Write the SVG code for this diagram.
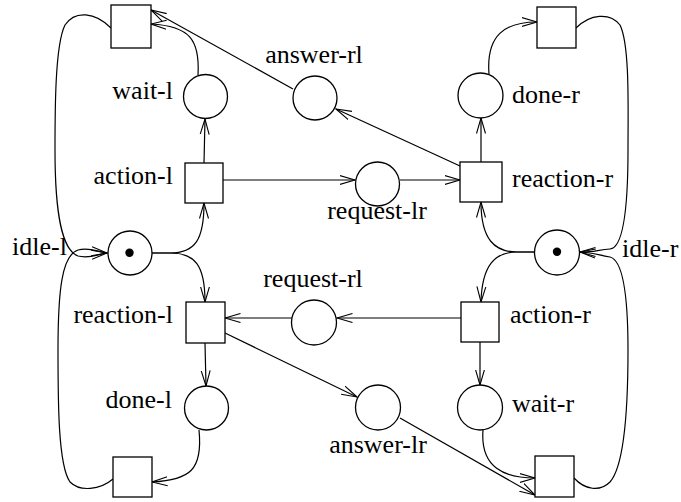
<svg xmlns="http://www.w3.org/2000/svg" width="681" height="502" viewBox="0 0 681 502">
<style>
.n{fill:#fff;stroke:#000;stroke-width:1.3}
.tok{fill:#000}
.lbl{font-family:"Liberation Serif","Times New Roman",serif;font-size:26px;fill:#000}
.e{text-anchor:end}
.m{text-anchor:middle}
.c path{fill:none;stroke:#000;stroke-width:1.2;marker-end:url(#arr)}
</style>
<defs>
<marker id="arr" markerUnits="userSpaceOnUse" markerWidth="17" markerHeight="11" viewBox="0 0 17 11" refX="15.5" refY="5.5" orient="auto">
<path d="M0,1 L15.5,5.5 L0,10" fill="none" stroke="#000" stroke-width="1.1"/>
</marker>
</defs>
<rect width="681" height="502" fill="#fff"/>
<g class="c" id="connectors">
<path d="M152,253 L170,253 C195,253 204,240 204,203"/>
<path d="M152,253 L170,253 C195,253 205,265 205,302"/>
<path d="M204,163 L205,119"/>
<path d="M198,75 C200,40 190,26 151,24"/>
<path d="M293,89 L151,10"/>
<path d="M111,28 C95,12 75,10 65,25 C55,45 55,110 55,150 C55,215 62,250 78,256 C90,259 98,254 107,253"/>
<path d="M113,479 C100,490 80,492 70,482 C58,465 58,400 58,350 C58,290 62,255 78,250 C90,247 98,252 107,253"/>
<path d="M205,343 L206,386"/>
<path d="M199,430 C203,470 190,480 152,482"/>
<path d="M225,333 L357,397"/>
<path d="M292,318 L225,318"/>
<path d="M461,318 L337,318"/>
<path d="M400,418 L535,495"/>
<path d="M483,430 C480,468 505,478 535,478"/>
<path d="M480,342 L480,385"/>
<path d="M534,252 L517,252 C495,252 482,265 481,302"/>
<path d="M534,252 L517,252 C495,252 481,240 481,202"/>
<path d="M481,162 L481,118"/>
<path d="M489,74 C486,35 505,22 537,22"/>
<path d="M576,28 C590,14 610,12 620,25 C630,45 628,110 628,150 C628,215 622,248 610,249 C598,250 590,253 580,252"/>
<path d="M574,478 C585,490 600,492 610,482 C625,465 628,400 628,350 C628,290 622,260 610,257 C598,255 590,252 580,252"/>
<path d="M460,166 L336,109"/>
<path d="M223,180 L355,180"/>
<path d="M400,180 L460,180"/>
</g>
<g id="t-top-l"><rect class="n" x="111" y="5" width="40" height="43"/></g>
<g id="t-top-r"><rect class="n" x="537" y="7" width="39" height="41"/></g>
<g id="p-wait-l"><circle class="n" cx="205.5" cy="96.5" r="22"/><text class="lbl e" x="173" y="99">wait-l</text></g>
<g id="p-answer-rl"><circle class="n" cx="315" cy="98" r="22"/><text class="lbl m" x="314" y="63">answer-rl</text></g>
<g id="p-done-r"><circle class="n" cx="480.5" cy="95.5" r="22.5"/><text class="lbl" x="512" y="103">done-r</text></g>
<g id="t-action-l"><rect class="n" x="185" y="163" width="38" height="40"/><text class="lbl e" x="173" y="184">action-l</text></g>
<g id="p-request-lr"><circle class="n" cx="377.5" cy="184" r="22"/><text class="lbl m" x="377" y="219">request-lr</text></g>
<g id="t-reaction-r"><rect class="n" x="460" y="162" width="42" height="40"/><text class="lbl" x="512" y="187">reaction-r</text></g>
<g id="p-idle-l"><circle class="n" cx="130" cy="253" r="22"/><circle class="tok" cx="129.5" cy="252.7" r="4.2"/><text class="lbl" x="12" y="255">idle-l</text></g>
<g id="p-idle-r"><circle class="n" cx="557" cy="252.5" r="22.5"/><circle class="tok" cx="557" cy="251.8" r="4.2"/><text class="lbl" x="622" y="257">idle-r</text></g>
<g id="t-reaction-l"><rect class="n" x="186" y="302" width="39" height="41"/><text class="lbl e" x="173" y="323">reaction-l</text></g>
<g id="p-request-rl"><circle class="n" cx="314" cy="322.5" r="22.5"/><text class="lbl m" x="313" y="287">request-rl</text></g>
<g id="t-action-r"><rect class="n" x="461" y="302" width="38" height="40"/><text class="lbl" x="510" y="323">action-r</text></g>
<g id="p-done-l"><circle class="n" cx="206.5" cy="408" r="22"/><text class="lbl e" x="172" y="408">done-l</text></g>
<g id="p-answer-lr"><circle class="n" cx="378" cy="407.5" r="22.5"/><text class="lbl m" x="378" y="453">answer-lr</text></g>
<g id="p-wait-r"><circle class="n" cx="480" cy="407.5" r="22.5"/><text class="lbl" x="512" y="412">wait-r</text></g>
<g id="t-bot-l"><rect class="n" x="113" y="457" width="39" height="40"/></g>
<g id="t-bot-r"><rect class="n" x="535" y="456" width="39" height="41"/></g>
</svg>
